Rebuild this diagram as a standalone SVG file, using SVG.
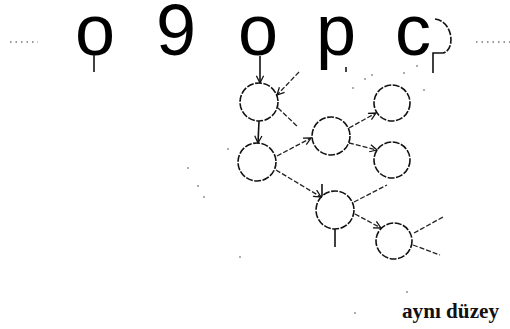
<svg xmlns="http://www.w3.org/2000/svg" width="510" height="329" viewBox="0 0 510 329">
  <style>
    .big { font-family: "Liberation Sans", Arial, sans-serif; font-size: 72px; fill: #000; text-anchor: middle; }
    .note { font-family: "Liberation Serif", "Times New Roman", serif; font-size: 20px; font-weight: bold; fill: #111; }
    .node { fill: none; stroke: #111; stroke-width: 1.6; stroke-dasharray: 7 1.5; }
    .solid { fill: none; stroke: #111; stroke-width: 1.6; }
    .edge { fill: none; stroke: #222; stroke-width: 1.3; stroke-dasharray: 5 2; }
    .dots { fill: none; stroke: #333; stroke-width: 1.2; stroke-dasharray: 1.5 4; }
    .speck { fill: #444; }
  </style>
  <defs>
    <marker id="arrow" viewBox="0 0 10 10" refX="9" refY="5" markerWidth="9" markerHeight="9" markerUnits="userSpaceOnUse" orient="auto">
      <path d="M1,1 L9,5 L1,9" fill="none" stroke="#111" stroke-width="1.4"/>
    </marker>
  </defs>
  <rect width="510" height="329" fill="#fff"/>

  <!-- top row of symbols -->
  <g id="symbols">
    <text class="big" x="95" y="55">o</text>
    <text class="big" x="176" y="55">9</text>
    <text class="big" x="258" y="55">o</text>
    <text class="big" x="336" y="55">p</text>
    <text class="big" x="413" y="55">c</text>
    <path class="node" d="M435,19 C453,21 456,50 443,53"/>
    <path class="solid" d="M443,53 L433,53 L433,73"/>
    <line class="dots" x1="10" y1="42" x2="38" y2="42"/>
    <line class="dots" x1="476" y1="42" x2="510" y2="42"/>
  </g>

  <!-- nodes -->
  <g id="nA"><circle class="node" cx="259" cy="102" r="19"/></g>
  <g id="nB"><circle class="node" cx="257" cy="162" r="19"/></g>
  <g id="nC"><circle class="node" cx="331" cy="136" r="19"/></g>
  <g id="nD"><circle class="node" cx="392" cy="103" r="18"/></g>
  <g id="nE"><circle class="node" cx="392" cy="160" r="18"/></g>
  <g id="nF"><circle class="node" cx="335" cy="210" r="19"/></g>
  <g id="nG"><circle class="node" cx="394" cy="241" r="18"/></g>

  <!-- connectors -->
  <g id="connectors">
    <line class="solid" x1="94" y1="54" x2="94" y2="72"/>
    <line class="solid" x1="260" y1="56" x2="260" y2="83" marker-end="url(#arrow)"/>
    <line class="solid" x1="259" y1="121" x2="258" y2="143" marker-end="url(#arrow)"/>
    <line class="edge" x1="299" y1="72" x2="277" y2="95" marker-end="url(#arrow)"/>
    <line class="edge" x1="278" y1="108" x2="298" y2="127"/>
    <line class="edge" x1="277" y1="156" x2="311" y2="138" marker-end="url(#arrow)"/>
    <line class="edge" x1="349" y1="128" x2="376" y2="113" marker-end="url(#arrow)"/>
    <line class="edge" x1="349" y1="143" x2="377" y2="150" marker-end="url(#arrow)"/>
    <line class="edge" x1="276" y1="170" x2="321" y2="197" marker-end="url(#arrow)"/>
    <line class="solid" x1="322" y1="184" x2="322" y2="196"/>
    <line class="edge" x1="354" y1="202" x2="387" y2="185"/>
    <line class="edge" x1="355" y1="214" x2="381" y2="228" marker-end="url(#arrow)"/>
    <line class="edge" x1="414" y1="233" x2="443" y2="217"/>
    <line class="edge" x1="413" y1="245" x2="440" y2="255"/>
    <line class="solid" x1="335" y1="229" x2="335" y2="247"/>
  </g>

  <!-- stray marks -->
  <g id="specks">
    <rect class="speck" x="345" y="67" width="2" height="5"/>
    <circle class="speck" cx="353" cy="88" r="0.8"/>
    <circle class="speck" cx="365" cy="79" r="0.8"/>
    <circle class="speck" cx="372" cy="75" r="0.8"/>
    <circle class="speck" cx="417" cy="66" r="0.8"/>
    <circle class="speck" cx="424" cy="90" r="0.8"/>
    <circle class="speck" cx="404" cy="73" r="0.8"/>
    <circle class="speck" cx="188" cy="168" r="0.8"/>
    <circle class="speck" cx="198" cy="186" r="0.8"/>
    <circle class="speck" cx="204" cy="197" r="0.8"/>
    <circle class="speck" cx="228" cy="149" r="0.8"/>
    <circle class="speck" cx="240" cy="257" r="0.8"/>
    <circle class="speck" cx="407" cy="292" r="0.8"/>
    <circle class="speck" cx="355" cy="313" r="0.8"/>
  </g>

  <g id="label">
    <text class="note" x="402" y="318" textLength="97" lengthAdjust="spacingAndGlyphs">aynı düzey</text>
  </g>
</svg>
